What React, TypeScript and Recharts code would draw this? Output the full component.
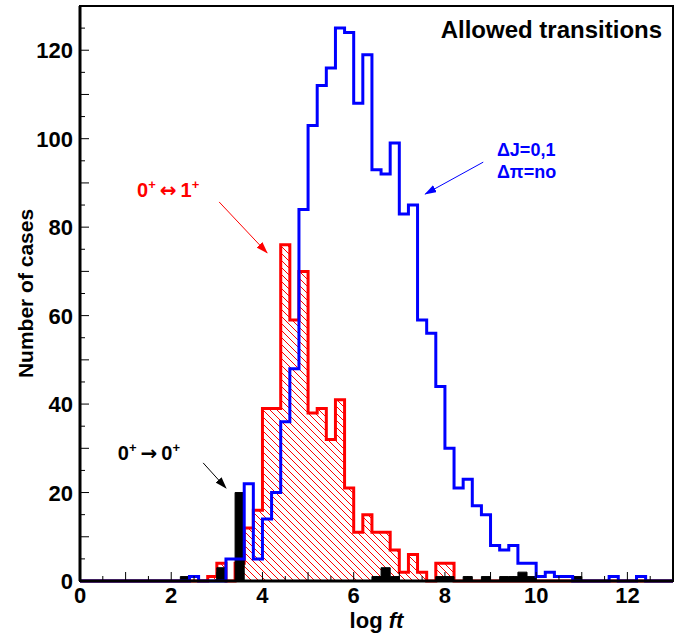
import React from "react";
import {
  ComposedChart,
  Line,
  Area,
  XAxis,
  YAxis,
  ReferenceLine,
  ReferenceArea,
  ReferenceDot,
} from "recharts";

// log ft histograms, 0.2 wide bins; each start value is the left edge of a bin
const BIN_WIDTH = 0.2;
const X_MAX = 13;
const Y_MAX = 130;

// all allowed transitions (dJ = 0,1, no parity change)
const allowedBinStarts = [
  2.4, 3.2, 3.4, 3.6, 3.8, 4.0, 4.2, 4.4, 4.6, 4.8,
  5.0, 5.2, 5.4, 5.6, 5.8, 6.0, 6.2, 6.4, 6.6, 6.8,
  7.0, 7.2, 7.4, 7.6, 7.8, 8.0, 8.2, 8.4, 8.6, 8.8,
  9.0, 9.2, 9.4, 9.6, 9.8, 10.0, 10.2, 10.4, 10.6, 11.6,
  12.2,
];
const allowedCounts = [
  1, 5, 5, 22, 5, 14, 20, 36, 48, 84,
  103, 112, 116, 125, 124, 108, 119, 93, 92, 99,
  83, 85, 59, 56, 44, 30, 21, 23, 17, 15,
  8, 7, 8, 4, 4, 1, 2, 1, 1, 1,
  1,
];

// 0+ <-> 1+ transitions
const gtBinStarts = [
  2.8, 3.0, 3.4, 3.6, 3.8, 4.0, 4.2, 4.4, 4.6, 4.8,
  5.0, 5.2, 5.4, 5.6, 5.8, 6.0, 6.2, 6.4, 6.6, 6.8,
  7.0, 7.2, 7.4, 7.8, 8.0,
];
const gtCounts = [
  1, 4, 4, 12, 16, 39, 39, 76, 59, 70,
  38, 39, 32, 41, 21, 11, 15, 11, 11, 7,
  2, 6, 2, 4, 4,
];

// 0+ -> 0+ transitions
const fermiBinStarts = [2.2, 3.0, 3.4, 6.4, 6.6, 6.8, 7.8, 8.0, 8.4, 8.8, 9.2, 9.4, 9.6, 9.8, 10.8];
const fermiCounts = [1, 3, 20, 1, 3, 1, 1, 1, 1, 1, 1, 1, 2, 1, 1];

// axis ticks: labelled majors plus unlabelled minors
const xTicks = [
  0, 0.5, 1, 1.5, 2, 2.5, 3, 3.5, 4, 4.5, 5, 5.5, 6, 6.5,
  7, 7.5, 8, 8.5, 9, 9.5, 10, 10.5, 11, 11.5, 12, 12.5, 13,
];
const xTickLabels = [0, 2, 4, 6, 8, 10, 12];
const yTicks = [
  0, 5, 10, 15, 20, 25, 30, 35, 40, 45, 50, 55, 60, 65,
  70, 75, 80, 85, 90, 95, 100, 105, 110, 115, 120, 125,
];
const yTickLabels = [0, 20, 40, 60, 80, 100, 120];

const FONT = '"Liberation Sans", Arial, Helvetica, sans-serif';
const ARROW_FONT = '"DejaVu Sans", sans-serif';
const RED = "#ff0000";
const BLUE = "#0000ff";

function toLookup(starts: number[], counts: number[]) {
  const m = new Map<number, number>();
  starts.forEach((s, i) => m.set(Math.round(s * 10), counts[i]));
  return m;
}

const allowedMap = toLookup(allowedBinStarts, allowedCounts);
const gtMap = toLookup(gtBinStarts, gtCounts);
const fermiMap = toLookup(fermiBinStarts, fermiCounts);

// one row per bin edge, the last edge closes the step outline
const rows: { x: number; allowed: number; gt: number; fermi: number }[] = [];
for (let k = 0; k <= Math.round(X_MAX / BIN_WIDTH); k++) {
  const key = Math.round(k * BIN_WIDTH * 10);
  rows.push({
    x: key / 10,
    allowed: allowedMap.get(key) ?? 0,
    gt: gtMap.get(key) ?? 0,
    fermi: fermiMap.get(key) ?? 0,
  });
}

function XTick({ x, y, payload }: any) {
  const v = payload.value as number;
  const major = v % 1 === 0;
  const labelled = xTickLabels.includes(v);
  return (
    <g>
      <line x1={x} x2={x} y1={y} y2={y - (major ? 9 : 5)} stroke="#000" strokeWidth={1} />
      {labelled && (
        <text x={x} y={y + 22} textAnchor="middle" fontFamily={FONT} fontWeight="bold" fontSize={22} fill="#000">
          {v}
        </text>
      )}
    </g>
  );
}

function YTick({ x, y, payload }: any) {
  const v = payload.value as number;
  const major = v % 10 === 0;
  const labelled = yTickLabels.includes(v);
  return (
    <g>
      <line x1={x} x2={x + (major ? 9 : 5)} y1={y} y2={y} stroke="#000" strokeWidth={1} />
      {labelled && (
        <text x={x - 7} y={y + 8} textAnchor="end" fontFamily={FONT} fontWeight="bold" fontSize={22} fill="#000">
          {v}
        </text>
      )}
    </g>
  );
}

function YTitle({ viewBox }: any) {
  const cx = viewBox.x + 33;
  const cy = viewBox.y + viewBox.height / 2;
  return (
    <text
      x={cx}
      y={cy}
      transform={`rotate(-90 ${cx} ${cy})`}
      textAnchor="middle"
      fontFamily={FONT}
      fontWeight="bold"
      fontSize={21}
      fill="#000"
    >
      Number of cases
    </text>
  );
}

function XTitle({ viewBox }: any) {
  const cx = viewBox.x + viewBox.width / 2;
  return (
    <text x={cx} y={viewBox.y + 47} textAnchor="middle" fontFamily={FONT} fontWeight="bold" fontSize={22} fill="#000">
      log <tspan fontStyle="italic">ft</tspan>
    </text>
  );
}

// text with superscript "+" after both states, e.g. 0+ -> 0+
function TransitionText({ cx, cy, arrow, color }: { cx: number; cy: number; arrow: string; color: string }) {
  return (
    <text x={cx} y={cy} fontFamily={FONT} fontWeight="bold" fontSize={20} fill={color}>
      <tspan>0</tspan>
      <tspan dy={-8} fontSize={13}>+</tspan>
      <tspan dy={8} dx={4} fontFamily={ARROW_FONT} fontSize={20}>{arrow}</tspan>
      <tspan dx={4}>{arrow === "↔" ? "1" : "0"}</tspan>
      <tspan dy={-8} fontSize={13}>+</tspan>
    </text>
  );
}

// annotation anchors, in axis units
const gtLabelAt = { x: 1.25, y: 86.8 };
const gtArrow = [{ x: 3.05, y: 85.7 }, { x: 4.1, y: 74.2 }];
const fermiLabelAt = { x: 0.83, y: 27.4 };
const fermiArrow = [{ x: 2.7, y: 26.7 }, { x: 3.2, y: 21.0 }];
const allowedLabelAt = { x: 9.14, y: 96.1 };
const allowedArrow = [{ x: 8.84, y: 94.7 }, { x: 7.57, y: 87.5 }];
const titleAt = { x: 12.76, y: 122.8 };

export default function App() {
  return (
    <div style={{ position: "absolute", left: 0, top: 0, width: 686, height: 637, background: "#fff" }}>
      <ComposedChart width={686} height={637} data={rows} margin={{ top: 6, right: 13, bottom: 0, left: 0 }}>
        <defs>
          <pattern id="gtHatch" patternUnits="userSpaceOnUse" width={7} height={7}>
            <path d="M-1,-1 L8,8 M-1,6 L1,8 M6,-1 L8,1" stroke={RED} strokeWidth={1} />
          </pattern>
          {[
            ["arrowRed", RED],
            ["arrowBlack", "#000"],
            ["arrowBlue", BLUE],
          ].map(([id, c]) => (
            <marker
              key={id}
              id={id}
              markerUnits="userSpaceOnUse"
              markerWidth={12}
              markerHeight={8}
              refX={11}
              refY={4}
              orient="auto"
            >
              <path d="M0,0 L12,4 L0,8 z" fill={c} />
            </marker>
          ))}
        </defs>

        <XAxis
          dataKey="x"
          type="number"
          domain={[0, X_MAX]}
          ticks={xTicks}
          interval={0}
          tickSize={0}
          tickMargin={0}
          tickLine={false}
          axisLine={false}
          tick={<XTick />}
          height={56}
          label={XTitle}
        />
        <YAxis
          type="number"
          domain={[0, Y_MAX]}
          ticks={yTicks}
          interval={0}
          tickSize={0}
          tickMargin={0}
          tickLine={false}
          axisLine={false}
          tick={<YTick />}
          width={80}
          label={YTitle}
        />

        <Area
          dataKey="gt"
          type="stepAfter"
          stroke={RED}
          strokeWidth={3}
          fill="url(#gtHatch)"
          fillOpacity={1}
          dot={false}
          activeDot={false}
          isAnimationActive={false}
        />
        <Line
          dataKey="allowed"
          type="stepAfter"
          stroke={BLUE}
          strokeWidth={3}
          dot={false}
          activeDot={false}
          isAnimationActive={false}
        />
        <Area
          dataKey="fermi"
          type="stepAfter"
          stroke="#000"
          strokeWidth={1}
          fill="#000"
          fillOpacity={1}
          dot={false}
          activeDot={false}
          isAnimationActive={false}
        />

        <ReferenceArea x1={0} x2={X_MAX} y1={0} y2={Y_MAX} fill="none" fillOpacity={0} stroke="#000" strokeWidth={2} />
        <ReferenceLine x={0} stroke="#000" strokeWidth={3} />
        <ReferenceLine y={0} stroke="#000" strokeWidth={3} />

        <ReferenceLine segment={gtArrow} stroke={RED} strokeWidth={1} markerEnd="url(#arrowRed)" />
        <ReferenceLine segment={fermiArrow} stroke="#000" strokeWidth={1} markerEnd="url(#arrowBlack)" />
        <ReferenceLine segment={allowedArrow} stroke={BLUE} strokeWidth={1} markerEnd="url(#arrowBlue)" />

        <ReferenceDot
          x={gtLabelAt.x}
          y={gtLabelAt.y}
          r={0}
          shape={(p: any) => <TransitionText cx={p.cx} cy={p.cy} arrow="↔" color={RED} />}
        />
        <ReferenceDot
          x={fermiLabelAt.x}
          y={fermiLabelAt.y}
          r={0}
          shape={(p: any) => <TransitionText cx={p.cx} cy={p.cy} arrow="→" color="#000" />}
        />
        <ReferenceDot
          x={allowedLabelAt.x}
          y={allowedLabelAt.y}
          r={0}
          shape={(p: any) => (
            <text x={p.cx} y={p.cy} fontFamily={FONT} fontWeight="bold" fontSize={18} fill={BLUE}>
              <tspan x={p.cx}>ΔJ=0,1</tspan>
              <tspan x={p.cx} dy={22}>Δπ=no</tspan>
            </text>
          )}
        />
        <ReferenceDot
          x={titleAt.x}
          y={titleAt.y}
          r={0}
          shape={(p: any) => (
            <text x={p.cx} y={p.cy} textAnchor="end" fontFamily={FONT} fontWeight="bold" fontSize={24} fill="#000">
              Allowed transitions
            </text>
          )}
        />
      </ComposedChart>
    </div>
  );
}
